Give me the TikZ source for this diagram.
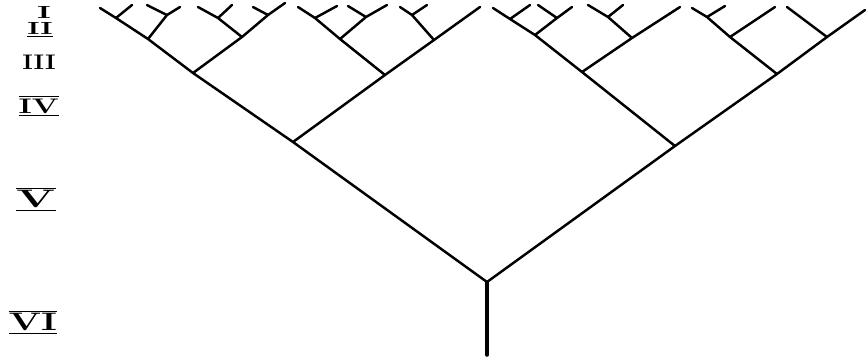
\documentclass[tikz,border=0pt]{standalone}
\usepackage{graphicx}
\begin{document}
\begin{tikzpicture}[x=0.02cm,y=-0.02cm,
  branch/.style={line width=1.4pt,line cap=round,line join=round},
  stem/.style={line width=2pt,line cap=round},
  numeral/.style={font=\bfseries,inner sep=0pt},
  bignumeral/.style={font=\large\bfseries,inner sep=0pt}]
\useasboundingbox (0,0) rectangle (867,363);
% labels
\node[numeral] (l1) at (44,12) {\scalebox{1.8}[1]{I}};
\node[numeral] (l2) at (40,30) {\scalebox{1.6}[1]{$\underline{\mathbf{II}}$}};
\node[numeral,font=\large\bfseries] (l3) at (39,62) {\scalebox{1.2}[1]{III}};
\node[bignumeral] (l4) at (39,106) {\scalebox{1.5}[1]{$\overline{\underline{\mathbf{IV}}}$}};
\node[bignumeral,font=\Large\bfseries] (l5) at (36,199) {\scalebox{1.8}[1]{$\overline{\underline{\mathbf{V}}}$}};
\node[bignumeral,font=\Large\bfseries] (l6) at (33,322) {\scalebox{1.5}[1]{$\overline{\underline{\mathbf{VI}}}$}};
% junctions and tips
\coordinate (R) at (487,282); \coordinate (S) at (487,355);
\coordinate (A) at (293,142); \coordinate (B) at (675,146);
% left half, left part
\coordinate (A1) at (193,73); \coordinate (A11) at (148,39); \coordinate (A12) at (116,18); \coordinate (A1t) at (100,8);
\coordinate (A12b) at (132,5); \coordinate (A11a) at (167,15); \coordinate (A11t) at (180,7); \coordinate (A11b) at (147,5);
\coordinate (A2) at (242,37); \coordinate (A3) at (268,15); \coordinate (A3t) at (285,3);
\coordinate (A2a) at (218,18); \coordinate (A2t) at (198,7); \coordinate (A2b) at (232,5); \coordinate (A3b) at (253,7);
% left half, right part
\coordinate (C) at (385,75); \coordinate (C1) at (434,40); \coordinate (C1t) at (480,7);
\coordinate (C2) at (340,39); \coordinate (C3) at (315,18); \coordinate (C3t) at (298,7);
\coordinate (C2a) at (366,17); \coordinate (C2t) at (387,5); \coordinate (C2b) at (348,6); \coordinate (C3b) at (337,6);
\coordinate (C1a) at (412,15); \coordinate (C1at) at (400,7); \coordinate (C1b) at (427,5);
% right half, left part
\coordinate (D) at (582,72); \coordinate (D1) at (535,35); \coordinate (D2) at (510,19); \coordinate (Dt) at (493,8);
\coordinate (D3) at (632,38); \coordinate (D3t) at (680,7); \coordinate (D4) at (608,17); \coordinate (D4t) at (588,5); \coordinate (D4b) at (623,5);
\coordinate (D1a) at (557,18); \coordinate (D1t) at (572,7); \coordinate (D1b) at (538,5); \coordinate (D2b) at (530,5);
% right half, right part
\coordinate (E) at (777,74); \coordinate (E1) at (827,37); \coordinate (Et) at (865,10);
\coordinate (E2) at (730,37); \coordinate (E3) at (707,17); \coordinate (E3t) at (692,8);
\coordinate (E2b) at (775,7); \coordinate (E3b) at (725,6); \coordinate (E1b) at (787,7);
% stem
\draw[stem] (R) -- (S);
% main lines
\draw[branch] (A1t) -- (A12) -- (A11) -- (A1) -- (A) -- (R) -- (B) -- (E) -- (E1) -- (Et);
% left half
\draw[branch] (A) -- (C) -- (C1) -- (C1t);
\draw[branch] (A1) -- (A2) -- (A3) -- (A3t);
\draw[branch] (A12) -- (A12b);
\draw[branch] (A11) -- (A11a) -- (A11t);
\draw[branch] (A11a) -- (A11b);
\draw[branch] (A2) -- (A2a) -- (A2t);
\draw[branch] (A2a) -- (A2b);
\draw[branch] (A3) -- (A3b);
\draw[branch] (C) -- (C2) -- (C3) -- (C3t);
\draw[branch] (C2) -- (C2a) -- (C2t);
\draw[branch] (C2a) -- (C2b);
\draw[branch] (C3) -- (C3b);
\draw[branch] (C1) -- (C1a) -- (C1at);
\draw[branch] (C1a) -- (C1b);
% right half
\draw[branch] (B) -- (D) -- (D1) -- (D2) -- (Dt);
\draw[branch] (D) -- (D3) -- (D3t);
\draw[branch] (D3) -- (D4) -- (D4t);
\draw[branch] (D4) -- (D4b);
\draw[branch] (D1) -- (D1a) -- (D1t);
\draw[branch] (D1a) -- (D1b);
\draw[branch] (D2) -- (D2b);
\draw[branch] (E) -- (E2) -- (E3) -- (E3t);
\draw[branch] (E2) -- (E2b);
\draw[branch] (E3) -- (E3b);
\draw[branch] (E1) -- (E1b);
\end{tikzpicture}
\end{document}
